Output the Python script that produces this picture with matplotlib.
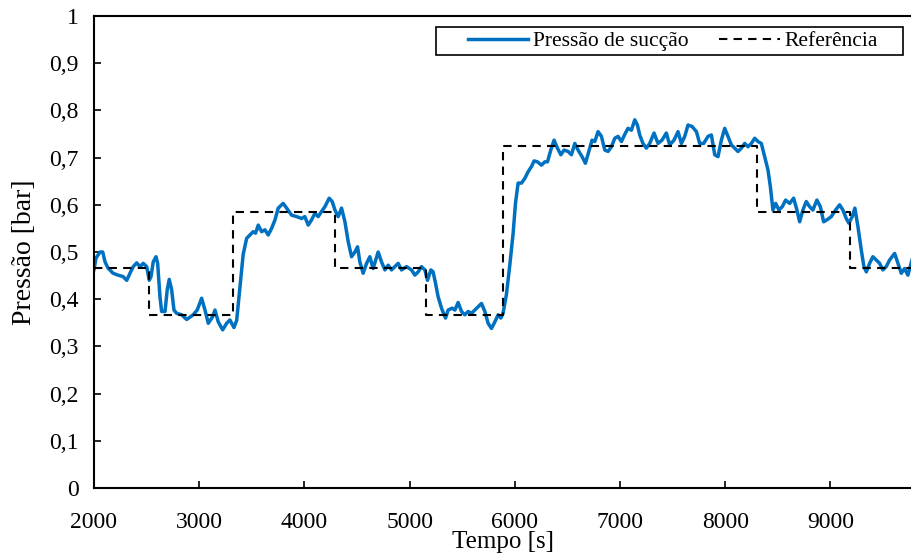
import matplotlib
matplotlib.use("Agg")
import matplotlib.pyplot as plt
from matplotlib.patches import Rectangle

plt.rcParams['font.family'] = ['Liberation Serif', 'DejaVu Serif']

# measured suction pressure [bar] vs time [s]
tempo = [2000, 2019, 2057, 2083, 2105, 2133, 2181, 2228, 2276, 2311, 2342, 2373, 2406, 2437,
         2468, 2501, 2525, 2542, 2563, 2589, 2605, 2627, 2643, 2675, 2696, 2715, 2738, 2760,
         2786, 2833, 2881, 2912, 2943, 2981, 3023, 3055, 3086, 3128, 3150, 3181, 3223, 3261,
         3292, 3330, 3356, 3387, 3418, 3451, 3482, 3513, 3536, 3561, 3593, 3625, 3656, 3688,
         3720, 3751, 3798, 3831, 3878, 3926, 3973, 4004, 4036, 4068, 4100, 4131, 4163, 4195,
         4235, 4264, 4290, 4321, 4353, 4385, 4416, 4448, 4480, 4505, 4527, 4558, 4591, 4622,
         4653, 4701, 4733, 4765, 4796, 4828, 4860, 4891, 4923, 4971, 5018, 5050, 5081, 5113,
         5145, 5170, 5202, 5223, 5246, 5271, 5303, 5341, 5366, 5404, 5430, 5461, 5493, 5525,
         5556, 5588, 5620, 5651, 5683, 5715, 5746, 5778, 5810, 5841, 5867, 5888, 5920, 5952,
         5984, 6006, 6031, 6063, 6095, 6126, 6158, 6183, 6215, 6253, 6285, 6310, 6342, 6373,
         6405, 6437, 6468, 6506, 6538, 6570, 6601, 6639, 6671, 6703, 6734, 6760, 6791, 6823,
         6855, 6886, 6918, 6950, 6981, 7013, 7051, 7076, 7108, 7140, 7165, 7187, 7218, 7250,
         7282, 7323, 7361, 7399, 7440, 7472, 7513, 7551, 7583, 7615, 7646, 7684, 7726, 7757,
         7795, 7836, 7868, 7900, 7931, 7963, 7995, 8026, 8058, 8090, 8121, 8153, 8185, 8216,
         8248, 8280, 8311, 8343, 8375, 8406, 8429, 8453, 8479, 8510, 8542, 8574, 8612, 8650,
         8681, 8707, 8738, 8770, 8802, 8833, 8871, 8904, 8935, 8966, 9008, 9049, 9087, 9118,
         9150, 9175, 9207, 9232, 9261, 9293, 9318, 9341, 9372, 9403, 9435, 9467, 9498, 9530,
         9562, 9610, 9641, 9673, 9704, 9736, 9775]
pressao = [0.463, 0.487, 0.500, 0.500, 0.479, 0.466, 0.455, 0.451, 0.448, 0.440, 0.455, 0.469, 0.477, 0.469,
           0.476, 0.469, 0.440, 0.448, 0.479, 0.490, 0.476, 0.405, 0.374, 0.374, 0.420, 0.442, 0.420, 0.377,
           0.370, 0.367, 0.357, 0.362, 0.367, 0.377, 0.402, 0.377, 0.349, 0.363, 0.377, 0.352, 0.335, 0.349,
           0.356, 0.340, 0.355, 0.425, 0.495, 0.529, 0.536, 0.543, 0.540, 0.557, 0.543, 0.547, 0.536, 0.550,
           0.568, 0.593, 0.603, 0.593, 0.578, 0.575, 0.571, 0.575, 0.557, 0.568, 0.582, 0.575, 0.586, 0.596,
           0.614, 0.607, 0.589, 0.575, 0.593, 0.564, 0.522, 0.490, 0.500, 0.511, 0.479, 0.455, 0.476, 0.490,
           0.465, 0.500, 0.479, 0.462, 0.472, 0.462, 0.469, 0.476, 0.462, 0.469, 0.462, 0.451, 0.458, 0.469,
           0.462, 0.440, 0.462, 0.458, 0.434, 0.405, 0.381, 0.360, 0.377, 0.381, 0.377, 0.393, 0.374, 0.367,
           0.374, 0.370, 0.377, 0.384, 0.391, 0.374, 0.349, 0.338, 0.352, 0.367, 0.360, 0.370, 0.410, 0.472,
           0.540, 0.603, 0.646, 0.646, 0.656, 0.670, 0.681, 0.693, 0.691, 0.684, 0.691, 0.691, 0.716, 0.737,
           0.720, 0.706, 0.716, 0.713, 0.706, 0.730, 0.716, 0.702, 0.688, 0.713, 0.737, 0.734, 0.755, 0.745,
           0.716, 0.713, 0.723, 0.741, 0.745, 0.734, 0.752, 0.762, 0.758, 0.780, 0.769, 0.748, 0.730, 0.720,
           0.730, 0.752, 0.730, 0.737, 0.752, 0.727, 0.737, 0.755, 0.730, 0.745, 0.769, 0.766, 0.755, 0.730,
           0.730, 0.745, 0.748, 0.706, 0.702, 0.737, 0.762, 0.745, 0.727, 0.720, 0.713, 0.720, 0.730, 0.723,
           0.730, 0.741, 0.734, 0.730, 0.702, 0.674, 0.638, 0.589, 0.603, 0.589, 0.596, 0.610, 0.603, 0.614,
           0.589, 0.564, 0.589, 0.607, 0.596, 0.589, 0.610, 0.596, 0.564, 0.568, 0.575, 0.589, 0.600, 0.589,
           0.571, 0.561, 0.575, 0.593, 0.554, 0.504, 0.469, 0.458, 0.476, 0.490, 0.483, 0.476, 0.462, 0.469,
           0.483, 0.497, 0.476, 0.455, 0.465, 0.451, 0.483]

# setpoint (step changes)
ref_tempo = [2000, 2525, 3317, 4292, 5160, 5888, 8305, 9185, 9775]
ref_valor = [0.467, 0.367, 0.584, 0.467, 0.367, 0.725, 0.584, 0.467, 0.467]

xticks = [2000, 3000, 4000, 5000, 6000, 7000, 8000, 9000]
yticks = [0, 0.1, 0.2, 0.3, 0.4, 0.5, 0.6, 0.7, 0.8, 0.9, 1.0]
ylabels = ["0", "0,1", "0,2", "0,3", "0,4", "0,5", "0,6", "0,7", "0,8", "0,9", "1"]

fig = plt.figure(figsize=(9.12, 5.59), dpi=100)
ax = fig.add_axes([94 / 912, 71 / 559, 818 / 912, 472 / 559])

ax.plot(tempo, pressao, color='#0070C0', lw=2.5, label='Pressão de sucção')
ax.plot(ref_tempo, ref_valor, color='black', lw=1.5, ls=(0, (4, 3)), drawstyle='steps-post',
        label='Referência')

ax.set_xlim(2000, 9775)
ax.set_ylim(0, 1)
ax.set_xticks(xticks)
ax.set_yticks(yticks)
ax.set_yticklabels(ylabels)
ax.tick_params(direction='in', length=5, width=1.2, labelsize=17, pad=17)
ax.tick_params(axis='y', pad=11)
for s in ['left', 'bottom', 'top']:
    ax.spines[s].set_linewidth(1.5)
ax.spines['right'].set_visible(False)

ax.set_xlabel('Tempo [s]', fontsize=18, labelpad=-1)
ax.set_ylabel('Pressão [bar]', fontsize=20, labelpad=9)

# legend box drawn separately (wide padding like the original)
ax.add_patch(Rectangle((0.418, 0.917), 0.571, 0.060, transform=ax.transAxes, fill=False,
                       edgecolor='black', lw=1.2, zorder=5))
ax.legend(loc='center left', bbox_to_anchor=(0.457, 0.947), ncol=2, fontsize=15.5,
          frameon=False, handlelength=2.8, columnspacing=1.4, borderpad=0,
          handletextpad=0.25, borderaxespad=0)

fig.savefig('out.png', dpi=100)
